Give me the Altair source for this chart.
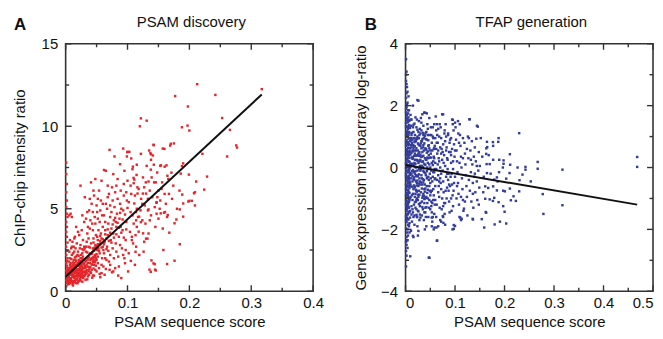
import altair as alt
import pandas as pd

# ---------------- data ----------------
PANEL_TITLES = ["PSAM discovery", "TFAP generation"]
PANEL_LETTERS = ["A", "B"]
X_TITLE = "PSAM sequence score"
Y_TITLES = ["ChIP-chip intensity ratio", "Gene expression microarray log-ratio"]

# Panel A: (PSAM sequence score, ChIP-chip intensity ratio)
A_POINTS = [
    (0.001, 0.3), (0.002, 0.5), (0.001, 0.65), (0.003, 0.75), (0.002, 0.85), (0.001, 0.95), (0.003, 1.05),
    (0.002, 1.15), (0.001, 1.25), (0.003, 1.4), (0.002, 1.55), (0.001, 1.7), (0.002, 1.85), (0.003, 2.0),
    (0.001, 2.2), (0.002, 2.45), (0.001, 2.7), (0.003, 2.95), (0.002, 3.3), (0.001, 3.6), (0.002, 3.9),
    (0.001, 4.2), (0.003, 4.5), (0.002, 4.7), (0.001, 5.1), (0.002, 5.5), (0.001, 6.0), (0.002, 6.5),
    (0.001, 7.1), (0.001, 7.8), (0.004, 0.55), (0.004, 1.3), (0.005, 0.9), (0.005, 1.8), (0.006, 4.6),
    (0.008, 4.7), (0.010, 4.5),
    (0.006, 0.45), (0.007, 0.7), (0.008, 1.0), (0.009, 1.3), (0.007, 1.6), (0.010, 0.6), (0.011, 0.9),
    (0.012, 1.2), (0.010, 1.5), (0.013, 1.9), (0.012, 2.3), (0.014, 0.8), (0.015, 1.1), (0.016, 1.4),
    (0.014, 1.7), (0.017, 2.1), (0.016, 2.6), (0.018, 0.7), (0.019, 1.0), (0.020, 1.3), (0.018, 1.6),
    (0.021, 1.9), (0.020, 2.4), (0.022, 0.9), (0.023, 1.2), (0.024, 1.5), (0.022, 1.8), (0.025, 2.2),
    (0.024, 2.8), (0.026, 1.0), (0.027, 1.35), (0.028, 1.7), (0.026, 2.0), (0.029, 2.5), (0.028, 3.1),
    (0.008, 0.55), (0.009, 0.8), (0.011, 1.1), (0.013, 1.45), (0.015, 0.6), (0.017, 0.95), (0.019, 1.25),
    (0.021, 1.55), (0.023, 0.75), (0.025, 1.05), (0.027, 1.85), (0.029, 1.15), (0.006, 1.2), (0.007, 2.0),
    (0.009, 2.6), (0.011, 3.0), (0.013, 2.7), (0.015, 3.3), (0.012, 0.35), (0.016, 0.5), (0.020, 0.55),
    (0.024, 0.65), (0.028, 0.8), (0.018, 2.9), (0.022, 3.4), (0.026, 3.7), (0.010, 2.2), (0.014, 2.4),
    (0.017, 1.8), (0.019, 2.2), (0.021, 1.05), (0.023, 2.6), (0.025, 1.6), (0.027, 2.3), (0.029, 1.9),
    (0.030, 1.4), (0.030, 0.9), (0.008, 1.45), (0.012, 1.75), (0.016, 1.9), (0.020, 1.7), (0.024, 2.0),
    (0.028, 2.1), (0.006, 0.8), (0.013, 1.0), (0.018, 1.15), (0.022, 1.35), (0.026, 1.5), (0.030, 2.7),
    (0.004, 0.42), (0.005, 0.62), (0.006, 1.02), (0.007, 1.28), (0.008, 1.72), (0.009, 0.68), (0.010, 1.02),
    (0.011, 1.38), (0.012, 0.52), (0.013, 1.22), (0.014, 1.55), (0.015, 0.88), (0.016, 1.15), (0.017, 1.48),
    (0.018, 0.92), (0.019, 1.62), (0.020, 1.08), (0.021, 1.32), (0.022, 0.62), (0.023, 1.45), (0.024, 1.22),
    (0.025, 0.85), (0.026, 1.75), (0.027, 1.12), (0.028, 1.42), (0.029, 0.95), (0.030, 1.68), (0.031, 1.52),
    (0.032, 1.05), (0.033, 1.85), (0.034, 1.28), (0.035, 2.35), (0.036, 1.72), (0.037, 1.22), (0.038, 2.05),
    (0.039, 1.45), (0.040, 1.88), (0.041, 1.12), (0.042, 2.25), (0.043, 1.62), (0.044, 2.05), (0.045, 1.38),
    (0.046, 2.45), (0.047, 1.75), (0.048, 2.15), (0.049, 1.55), (0.050, 2.75), (0.011, 0.42), (0.019, 0.48),
    (0.027, 0.58), (0.035, 0.72), (0.043, 0.82), (0.006, 2.4), (0.009, 1.95), (0.015, 2.05), (0.021, 2.15),
    (0.027, 2.55), (0.033, 2.7), (0.039, 2.65), (0.045, 2.95), (0.051, 3.3), (0.056, 3.05), (0.061, 2.5),
    (0.066, 3.2), (0.052, 2.1),
    (0.003, 0.62), (0.004, 0.88), (0.005, 1.12), (0.006, 1.42), (0.007, 0.52), (0.008, 0.78), (0.009, 1.08),
    (0.010, 1.32), (0.011, 1.62), (0.012, 0.88), (0.013, 0.62), (0.014, 1.28), (0.015, 1.58), (0.016, 0.72),
    (0.017, 1.22), (0.018, 1.32), (0.019, 0.78), (0.020, 0.92), (0.021, 1.72), (0.022, 1.12), (0.023, 0.98),
    (0.024, 1.82), (0.025, 1.32), (0.026, 1.22), (0.027, 0.88), (0.028, 1.92), (0.029, 1.62), (0.030, 1.18),
    (0.031, 0.98), (0.032, 1.42), (0.033, 1.18), (0.034, 1.62), (0.035, 1.08), (0.036, 1.92), (0.037, 1.48),
    (0.038, 1.32), (0.039, 2.25), (0.040, 1.15), (0.041, 1.95), (0.042, 1.62), (0.043, 2.35), (0.044, 1.78),
    (0.045, 2.45), (0.046, 2.05), (0.047, 2.65), (0.048, 1.85), (0.049, 2.55), (0.050, 2.25), (0.052, 2.85),
    (0.054, 2.45), (0.056, 3.35), (0.058, 2.65), (0.060, 3.15), (0.062, 2.85), (0.064, 3.45), (0.066, 2.55),
    (0.068, 3.75), (0.070, 3.05), (0.072, 3.55), (0.074, 2.95), (0.076, 4.05), (0.078, 3.25), (0.080, 4.45),
    (0.082, 3.45), (0.084, 4.15), (0.086, 3.85), (0.088, 4.75), (0.090, 3.55), (0.092, 4.35), (0.094, 3.25),
    (0.096, 4.65), (0.098, 3.75), (0.100, 5.05), (0.036, 3.9), (0.040, 4.3), (0.044, 3.7), (0.048, 4.1),
    (0.052, 5.6), (0.056, 4.9), (0.060, 5.3), (0.064, 4.2), (0.068, 5.7), (0.072, 5.2), (0.076, 5.5),
    (0.080, 6.0), (0.084, 6.8), (0.090, 5.0), (0.094, 6.5), (0.098, 6.0), (0.068, 6.4), (0.058, 6.7),
    (0.045, 6.1), (0.039, 5.6), (0.035, 4.8), (0.030, 4.2), (0.027, 4.6), (0.020, 3.6), (0.017, 3.9),
    (0.014, 3.2), (0.010, 2.7), (0.007, 3.1), (0.102, 5.4), (0.105, 6.4), (0.108, 4.6), (0.112, 5.8),
    (0.115, 3.9), (0.118, 6.2), (0.121, 4.9), (0.124, 5.3), (0.127, 6.3), (0.129, 4.1), (0.133, 5.6),
    (0.136, 4.3), (0.139, 6.9), (0.144, 5.1), (0.147, 4.7), (0.15, 6.1), (0.153, 5.5), (0.156, 6.6),
    (0.162, 5.3), (0.167, 5.9), (0.174, 6.4), (0.18, 5.0), (0.072, 1.6), (0.082, 2.4), (0.088, 2.8),
    (0.095, 2.0), (0.058, 1.6), (0.064, 2.0), (0.05, 1.2), (0.046, 0.95), (0.055, 1.05), (0.065, 1.35),
    (0.077, 1.2), (0.085, 0.95),
    (0.031, 1.2), (0.032, 1.8), (0.033, 2.4), (0.034, 3.0), (0.032, 0.7), (0.035, 1.5), (0.036, 2.1),
    (0.037, 2.7), (0.035, 3.5), (0.038, 1.0), (0.039, 1.7), (0.040, 2.3), (0.041, 2.9), (0.039, 3.8),
    (0.042, 1.3), (0.043, 2.0), (0.044, 2.6), (0.045, 3.2), (0.043, 4.1), (0.046, 1.6), (0.047, 2.2),
    (0.048, 2.8), (0.049, 3.4), (0.047, 4.5), (0.050, 1.9), (0.051, 2.5), (0.052, 3.1), (0.053, 3.7),
    (0.051, 4.8), (0.054, 1.4), (0.055, 2.3), (0.056, 2.9), (0.057, 3.5), (0.055, 4.2), (0.058, 1.1),
    (0.059, 2.0), (0.060, 2.7), (0.036, 0.9), (0.040, 1.45), (0.044, 0.95), (0.048, 1.3), (0.052, 1.7),
    (0.056, 0.85), (0.033, 4.4), (0.038, 4.9), (0.042, 5.3), (0.046, 5.8), (0.050, 5.2), (0.041, 6.6),
    (0.048, 6.8), (0.034, 2.0), (0.045, 1.9), (0.053, 2.6), (0.058, 3.2), (0.060, 3.9), (0.057, 5.5),
    (0.054, 6.1), (0.037, 3.2), (0.049, 2.0), (0.031, 2.6), (0.024, 6.4), (0.031, 5.7), (0.044, 4.8),
    (0.052, 4.4), (0.059, 4.6),
    (0.061, 1.5), (0.062, 2.3), (0.063, 3.0), (0.064, 3.7), (0.062, 4.6), (0.065, 5.3), (0.066, 1.9),
    (0.067, 2.7), (0.068, 3.4), (0.069, 4.1), (0.067, 5.0), (0.070, 5.9), (0.071, 1.3), (0.072, 2.2),
    (0.073, 3.1), (0.074, 3.8), (0.072, 4.5), (0.075, 6.3), (0.076, 2.6), (0.077, 3.5), (0.078, 4.3),
    (0.079, 5.1), (0.077, 7.1), (0.080, 1.4), (0.081, 2.9), (0.082, 3.9), (0.083, 4.7), (0.084, 5.6),
    (0.082, 6.4), (0.085, 2.1), (0.086, 3.3), (0.087, 4.4), (0.088, 5.3), (0.089, 6.1), (0.088, 7.7),
    (0.090, 0.8), (0.091, 2.6), (0.092, 3.7), (0.093, 4.9), (0.094, 5.8), (0.095, 7.3), (0.096, 1.7),
    (0.097, 3.1), (0.098, 4.2), (0.099, 5.5), (0.100, 6.7), (0.063, 1.0), (0.070, 1.8), (0.075, 1.15),
    (0.078, 2.0), (0.086, 1.5), (0.093, 2.2), (0.065, 7.3), (0.071, 8.57), (0.079, 8.17), (0.093, 8.65),
    (0.0996, 8.43), (0.103, 8.45), (0.062, 7.35), (0.069, 2.45), (0.074, 4.8), (0.081, 4.2), (0.089, 3.9),
    (0.097, 2.5),
    (0.101, 1.2), (0.102, 2.3), (0.104, 3.6), (0.105, 4.8), (0.106, 5.9), (0.108, 7.4), (0.109, 2.9),
    (0.110, 4.1), (0.111, 6.77), (0.112, 1.6), (0.113, 3.4), (0.115, 5.0), (0.116, 6.3), (0.117, 4.5),
    (0.118, 3.61), (0.119, 2.2), (0.120, 10.0), (0.1216, 10.48), (0.131, 10.34), (0.1216, 8.33),
    (0.122, 5.6), (0.124, 4.3), (0.125, 6.9), (0.127, 3.0), (0.128, 5.2), (0.130, 3.19), (0.131, 7.6),
    (0.133, 4.9), (0.135, 8.53), (0.137, 8.37), (0.136, 6.1), (0.138, 4.6), (0.1387, 1.87), (0.142, 1.69),
    (0.1355, 1.31), (0.1445, 1.31), (0.140, 5.7), (0.141, 8.23), (0.142, 8.88), (0.143, 6.6), (0.145, 3.9),
    (0.147, 5.4), (0.148, 7.2), (0.150, 4.4), (0.107, 3.3), (0.114, 2.7), (0.126, 2.4), (0.134, 3.5),
    (0.1087, 7.55), (0.115, 7.67), (0.1425, 7.67), (0.153, 7.6), (0.160, 7.55), (0.138, 8.3), (0.138, 7.97),
    (0.1425, 8.85), (0.1597, 8.63), (0.169, 8.83), (0.106, 8.05), (0.099, 8.17), (0.1, 8.45),
    (0.144, 1.64), (0.1376, 1.18), (0.1457, 1.26), (0.113, 2.39), (0.1054, 1.84), (0.107, 3.1),
    (0.1252, 3.51), (0.1323, 3.19), (0.2075, 5.94), (0.1983, 5.44), (0.179, 4.35), (0.186, 7.13),
    (0.1645, 7.0), (0.1376, 7.37), (0.1296, 6.6), (0.134, 6.65), (0.1457, 6.6), (0.1098, 6.87),
    (0.1146, 7.05), (0.11, 6.55), (0.1162, 5.92), (0.1248, 5.92), (0.13, 5.92), (0.1468, 5.36),
    (0.1483, 5.7), (0.111, 5.32), (0.1135, 4.8), (0.1188, 4.52), (0.1216, 4.19), (0.114, 4.3),
    (0.134, 4.96), (0.1537, 4.72), (0.1606, 4.8), (0.165, 4.62),
    (0.154, 7.63), (0.157, 8.65), (0.163, 7.63), (0.170, 8.94), (0.175, 8.96), (0.171, 7.19), (0.157, 3.8),
    (0.159, 4.76), (0.164, 4.5), (0.1676, 3.55), (0.176, 4.12), (0.1845, 2.85), (0.164, 1.65), (0.176, 1.85),
    (0.1845, 4.96), (0.19, 4.52), (0.19, 5.32), (0.184, 6.1), (0.1885, 5.86), (0.2, 5.48), (0.204, 5.48),
    (0.209, 5.2), (0.209, 6.0), (0.224, 6.16), (0.211, 6.65), (0.2286, 6.95), (0.1992, 7.07), (0.19, 7.75),
    (0.188, 7.59), (0.221, 8.33), (0.261, 8.17), (0.2758, 8.84), (0.277, 8.71), (0.188, 9.94), (0.197, 10.04),
    (0.2, 9.74), (0.253, 10.5), (0.2656, 9.78), (0.1976, 11.2), (0.177, 11.83), (0.2126, 12.55), (0.242, 11.9),
    (0.317, 12.25), (0.155, 6.2), (0.160, 5.9), (0.166, 6.8), (0.152, 5.0), (0.158, 2.5), (0.172, 5.6),
]

# Panel B: (PSAM sequence score, gene expression log-ratio)
B_POINTS = [
    (.001, 3.5), (.002, 3.1), (.001, 2.8), (.003, 2.6), (.002, 2.4), (.001, 2.25), (.004, 2.1), (.002, 1.95),
    (.005, 1.85), (.001, 1.78), (.003, 1.7), (.006, 1.62), (.002, 1.55), (.004, 1.5), (.001, 1.43), (.007, 1.37),
    (.003, 1.3), (.005, 1.24), (.002, 1.18), (.008, 1.12), (.001, 1.05), (.004, .99), (.006, .93), (.002, .88),
    (.003, .82), (.007, .76), (.001, .7), (.005, .64), (.002, .59), (.008, .53), (.004, .47), (.001, .41),
    (.006, .36), (.003, .3), (.002, .24), (.007, .19), (.001, .13), (.005, .07), (.003, .02), (.008, -.04),
    (.002, -.1), (.004, -.15), (.001, -.21), (.006, -.27), (.003, -.32), (.007, -.38), (.002, -.44), (.005, -.5),
    (.001, -.55), (.004, -.61), (.008, -.67), (.002, -.73), (.006, -.78), (.003, -.84), (.001, -.9), (.005, -.96),
    (.007, -1.02), (.002, -1.08), (.004, -1.14), (.001, -1.2), (.006, -1.27), (.003, -1.34), (.002, -1.41),
    (.005, -1.5), (.001, -1.58), (.004, -1.67), (.002, -1.76), (.006, -1.86), (.001, -1.97), (.003, -2.1),
    (.002, -2.25), (.001, -2.4), (.004, -2.6), (.002, -2.85), (.001, -3.2),
    (.005, 1.46), (.008, 1.28), (.004, 1.08), (.009, .95), (.006, .72), (.009, .5), (.004, .27), (.009, .1),
    (.006, -.07), (.009, -.24), (.004, -.42), (.009, -.6), (.006, -.81), (.009, -.99), (.004, -1.22),
    (.008, -1.45), (.003, -1.62), (.007, -1.9), (.005, -2.2), (.003, .58), (.007, .01), (.002, -.63),
    (.008, .31), (.005, -.35), (.003, 1.0), (.007, -1.3),
    (.002, 1.62), (.004, 1.33), (.006, 1.05), (.001, .85), (.008, .62), (.003, .44), (.006, .2), (.001, -.02),
    (.009, -.18), (.004, -.36), (.007, -.52), (.001, -.7), (.005, -.88), (.008, -1.05), (.002, -1.24),
    (.006, -1.43), (.003, -1.65), (.008, -1.8), (.004, -2.0), (.007, 1.52), (.003, 1.15), (.009, .85),
    (.005, .4), (.002, .05), (.008, -.45), (.003, -.95), (.009, -1.4), (.006, -1.68), (.004, .75),
    (.007, -.12), (.005, -1.18), (.002, .32), (.009, .62), (.006, -.6), (.001, 1.9), (.003, 2.05), (.005, 1.75),
    (.002, -2.5), (.003, -2.35), (.001, -2.7), (.001, 3.0), (.002, 2.7),
    (.001, 1.32), (.002, 1.08), (.001, .78), (.003, .52), (.002, .16), (.001, -.28), (.003, -.58), (.002, -.82),
    (.001, -1.04), (.003, -1.28), (.002, -1.52), (.001, -1.72), (.004, 1.58), (.005, .82), (.004, .02),
    (.005, -.72), (.004, -1.52), (.007, 1.15), (.007, .42), (.007, -.32), (.007, -1.12), (.008, 1.52),
    (.008, .18), (.008, -.82), (.009, 1.28), (.009, -.48), (.009, -1.62), (.006, 1.3), (.006, .5), (.006, -.15),
    (.006, -1.1), (.005, -1.85), (.008, -2.1), (.004, -2.35), (.006, 2.3), (.004, 2.45), (.007, 1.85),
    (.010, 1.7), (.011, 1.35), (.012, 1.05), (.013, .8), (.014, .55), (.015, .3), (.016, .08), (.017, -.15),
    (.018, -.4), (.019, -.62), (.020, -.85), (.021, -1.1), (.022, -1.35), (.023, -1.6), (.024, -1.9),
    (.011, -2.05), (.013, -1.75), (.015, -1.45), (.017, -1.2), (.019, -.95), (.021, -.72), (.023, -.5),
    (.025, -.28), (.027, -.05), (.029, .2), (.010, .42), (.012, .65), (.014, .9), (.016, 1.15), (.018, 1.42),
    (.020, 1.62), (.022, 1.3), (.024, 1.0), (.026, .75), (.028, .5), (.030, .25), (.012, -.2), (.014, -.45),
    (.016, -.7), (.018, .15), (.020, .38), (.022, .62), (.024, -.1), (.026, -.6), (.028, -.88), (.030, -1.15),
    (.011, .12), (.013, -.9), (.015, 1.3), (.017, .7), (.019, .45), (.021, .0), (.023, .25), (.025, .55),
    (.027, .95), (.029, 1.25), (.010, -.55), (.012, -1.25), (.014, -1.05), (.016, -1.6), (.018, -1.85),
    (.020, -1.3), (.022, -.25), (.024, .4), (.026, .15), (.028, -.35), (.030, .7), (.024, 2.18), (.015, 2.0),
    (.019, 1.05), (.021, .85), (.023, -1.0), (.025, -1.4), (.027, -.75), (.029, -.45), (.013, .33),
    (.017, .95), (.027, 1.5), (.011, .88), (.025, -2.2), (.016, -2.25), (.028, -1.7), (.019, -.2), (.023, 1.55),
    (.026, 1.15), (.012, 1.55), (.030, -.1), (.030, 1.1), (.014, .12), (.018, -.65), (.022, -.75), (.026, -.95),
    (.010, .05), (.011, -.35), (.012, .48), (.013, -.62), (.014, .28), (.015, -.85), (.016, .62), (.017, -.32),
    (.018, .82), (.019, -1.12), (.020, .12), (.021, -.45), (.022, .95), (.023, -.78), (.024, .22), (.025, -1.05),
    (.026, .45), (.027, -.22), (.028, .72), (.029, -1.25), (.030, .42), (.031, -.48), (.032, .62), (.033, -.68),
    (.034, .18), (.035, -.92), (.036, .38), (.037, -.15), (.038, .78), (.039, -.55), (.040, .08), (.041, -.98),
    (.042, .58), (.043, -.35), (.044, .32), (.045, -.72), (.010, -.95), (.012, .95), (.014, -1.35), (.016, 1.38),
    (.018, -1.55), (.020, .88), (.022, -1.05), (.024, 1.22), (.026, -1.42), (.028, 1.05), (.030, -1.62),
    (.032, .85), (.034, -1.28), (.036, 1.05), (.038, -1.02), (.040, .62), (.011, .72), (.013, -.12), (.015, .52),
    (.017, -.58), (.019, .25), (.021, .55), (.023, -.28), (.025, .78), (.027, -.52), (.029, .05), (.031, -.05),
    (.033, .35), (.035, -.38), (.037, .55), (.039, -.78), (.041, .25), (.043, -.12), (.045, .15),
    (.011, 1.55), (.013, 1.12), (.015, .72), (.017, .38), (.019, .02), (.021, -.28), (.023, -.58), (.025, -.88),
    (.027, -1.18), (.029, -1.52), (.012, -1.52), (.014, -.28), (.016, -.38), (.018, .55), (.020, -.12),
    (.022, .38), (.024, -.42), (.026, .95), (.028, .22), (.030, -.55), (.032, .05), (.034, .92), (.036, -.48),
    (.038, .12), (.040, -.68), (.042, 1.15), (.044, -.32), (.046, .88), (.048, -1.05), (.050, .55), (.052, .32),
    (.054, -.45), (.056, -1.05), (.058, .62), (.060, .15), (.015, -.08), (.019, .68), (.023, .92), (.027, .38),
    (.031, .78), (.035, .02), (.039, 1.02), (.043, .48), (.047, .72), (.051, -.35), (.055, .08), (.059, -.38),
    (.033, -.35), (.037, -.92), (.041, .92), (.045, .52), (.049, .32), (.053, -.75), (.057, .35), (.035, 1.12),
    (.045, 1.25), (.055, 1.0), (.065, .8), (.075, .5), (.085, .25), (.062, .6), (.067, .3), (.072, -.2),
    (.077, .15), (.082, .55), (.087, -.2), (.092, .4), (.097, -.75), (.066, -.8), (.071, -.5), (.081, -.75),
    (.091, -.3), (.063, -1.2), (.073, -1.35), (.083, -1.0), (.093, -1.4), (.069, 1.4), (.079, 1.2), (.089, .8),
    (.032, 1.45), (.036, .72), (.04, -.18), (.044, -.82), (.048, .62), (.052, 1.05), (.056, -.15), (.06, -1.05),
    (.064, 1.05), (.068, -.45), (.072, .45), (.076, -1.25), (.08, .85), (.084, -.2), (.088, -.55), (.092, .95),
    (.096, -.05), (.1, .55), (.104, -.6), (.108, .8), (.112, -.95), (.116, .3), (.12, -1.1), (.124, .6),
    (.128, .95), (.132, .25), (.136, -.85), (.14, -.2), (.144, .05), (.148, -1.2), (.034, -.98), (.038, -1.45),
    (.042, -1.28), (.046, -1.6), (.05, -1.35), (.054, -1.15), (.058, -1.5), (.062, -1.6), (.066, 1.25), (.07, .65),
    (.026, 2.16), (.0377, 1.77), (.0397, 1.77), (.0235, -1.6), (.033, -1.55), (.0222, -1.53), (.0095, -2.87),
    (.0149, -2.21), (.026, -2.05),
    (.031, 1.6), (.032, 1.2), (.033, .85), (.034, .5), (.035, .2), (.036, -.1), (.037, -.4), (.038, -.7),
    (.039, -1.0), (.040, -1.3), (.041, -1.6), (.042, -1.9), (.043, 1.75), (.044, 1.4), (.045, 1.05), (.046, .7),
    (.047, .4), (.048, .1), (.049, -.2), (.050, -.5), (.051, -.8), (.052, -1.1), (.053, -1.45), (.054, -1.75),
    (.055, 1.3), (.056, .95), (.057, .6), (.058, .3), (.059, -.05), (.060, -.35), (.032, -.25), (.034, -.55),
    (.036, -.85), (.038, -1.15), (.040, -1.45), (.042, .25), (.044, .0), (.046, -.3), (.048, -.6), (.050, -.9),
    (.052, -1.25), (.054, .55), (.056, .2), (.058, -.15), (.060, -.6), (.031, .35), (.033, .05), (.035, .65),
    (.037, .95), (.039, .3), (.041, .6), (.043, .9), (.045, -.05), (.047, -.4), (.049, -.75), (.051, .45),
    (.053, .15), (.055, -.3), (.057, -.9), (.059, -1.2), (.031, -.8), (.033, -1.1), (.035, -1.35), (.037, -1.7),
    (.039, -2.0), (.041, -.25), (.043, -.6), (.045, -1.0), (.047, -1.3), (.049, 1.05), (.051, 1.3), (.053, .8),
    (.055, -1.6), (.057, -2.0), (.059, .7), (.036, 1.35), (.040, 1.1), (.044, -1.15), (.048, 1.6), (.052, -.1),
    (.056, -.7), (.060, .95), (.034, 1.72), (.038, 1.77), (.047, -2.91), (.053, -1.9), (.058, 1.4), (.042, -.95),
    (.050, .0), (.046, .3),
    (.061, 1.65), (.062, 1.2), (.063, .8), (.064, .45), (.065, .1), (.066, -.25), (.067, -.6), (.068, -.95),
    (.069, -1.3), (.070, -1.7), (.071, 1.3), (.072, .95), (.073, .6), (.074, .25), (.075, -.1), (.076, -.45),
    (.077, -.8), (.078, -1.15), (.079, -1.5), (.080, -1.85), (.081, 1.4), (.082, 1.0), (.083, .65), (.084, .3),
    (.085, -.05), (.086, -.4), (.087, -.75), (.088, -1.1), (.089, -1.45), (.090, .9), (.091, .5), (.092, .15),
    (.093, -.2), (.094, -.55), (.095, -.9), (.096, -1.25), (.097, 1.2), (.098, .75), (.099, .35), (.100, -.3),
    (.062, -.05), (.064, -.4), (.066, .55), (.068, .2), (.070, -.35), (.072, -.7), (.074, -1.0), (.076, .75),
    (.078, .4), (.080, .05), (.082, -.3), (.084, -.65), (.086, 1.1), (.088, .5), (.090, -.6), (.092, -1.0),
    (.094, .6), (.096, .2), (.098, -.5), (.100, 1.45), (.064, -2.36), (.074, 1.72), (.066, -1.9), (.072, -1.75),
    (.076, -1.6), (.095, -2.0), (.1, -1.89), (.094, 1.55), (.086, 1.05), (.08, -1.15), (.068, 1.0), (.07, .0),
    (.0759, 1.72), (.0954, 1.54), (.0954, 1.4), (.0785, 1.1), (.0632, 1.4), (.0752, -1.57), (.053, -1.62),
    (.0584, -1.94), (.0624, -1.94), (.0765, -1.79), (.0974, -1.98), (.0974, -1.86), (.0632, -2.37),
    (.0484, -2.92),
    (.101, 1.3), (.102, .9), (.103, .55), (.104, .2), (.105, -.15), (.106, -.5), (.107, -.85), (.108, -1.2),
    (.109, -1.6), (.110, 1.05), (.111, .7), (.112, .35), (.113, .0), (.114, -.35), (.115, -.7), (.116, -1.05),
    (.117, -1.4), (.118, -1.33), (.119, .8), (.120, .45), (.121, .1), (.122, -.25), (.123, -.6), (.124, -.95),
    (.126, 1.0), (.127, .3), (.128, -.4), (.129, 1.56), (.130, -.75), (.131, .55), (.132, -.15), (.133, -1.1),
    (.134, .85), (.135, .1), (.136, -.5), (.137, -1.3), (.138, .35), (.139, -.3), (.140, .65), (.141, -.8),
    (.142, .2), (.143, .93), (.144, -.45), (.145, -1.05), (.146, 1.32), (.147, -.1), (.148, .5), (.149, -.65),
    (.150, .05), (.106, 1.5), (.112, -1.7), (.116, .95), (.125, -1.55), (.103, -1.0), (.109, .15),
    (.1107, -1.62), (.1356, -1.66), (.1135, -1.66), (.1363, -1.68), (.1095, 1.4), (.1067, 1.1), (.1296, 1.56),
    (.1443, 1.35),
    (.1619, -1.44), (.154, -1.67), (.159, -1.94), (.163, -1.46), (.18, -1.84), (.1907, -1.75), (.2034, -1.81),
    (.2001, -1.43), (.1973, -1.25), (.188, -1.12), (.1765, -1.08), (.17, -1.03), (.1792, -.98), (.161, -1.01),
    (.2007, -.77), (.1973, -.75), (.1846, -.74), (.177, -.61), (.167, -.66), (.161, -.61), (.186, -.45),
    (.1792, -.39), (.1846, -.32), (.189, -.15), (.1645, -.18), (.17, .11), (.1638, .11), (.1966, .0),
    (.198, .12), (.198, .23), (.1893, .25), (.177, .25), (.163, .44), (.1632, .62), (.165, .66), (.1645, .83),
    (.177, .7), (.1766, .82), (.1873, .83), (.188, .95), (.2034, -.36), (.2102, -.18), (.2108, .43),
    (.2114, .09), (.2108, -.68), (.2182, -.93), (.2128, -1.06), (.2229, -1.08), (.2263, .0), (.2363, -.23),
    (.2296, -.77), (.2303, -.41), (.2296, 1.11), (.2423, .02), (.2423, -.07), (.253, -.45), (.267, .18),
    (.267, -.04), (.2772, -.86), (.2786, -1.5), (.317, -.07), (.317, -1.22), (.468, .34), (.468, .02),
    (.155, .35), (.158, -.3), (.172, -.2), (.152, .95), (.157, -.8), (.168, .4),
]

# fitted regression lines (end points)
A_FIT_X = [0.0, 0.317]
A_FIT_Y = [0.88, 11.93]
B_FIT_X = [0.0, 0.468]
B_FIT_Y = [0.08, -1.2]

# axis ticks
A_XMAJOR = [0, 0.1, 0.2, 0.3, 0.4]
A_XMINOR = [0.05, 0.15, 0.25, 0.35]
A_YMAJOR = [0, 5, 10, 15]
A_YMINOR = [2.5, 7.5, 12.5]
B_XMAJOR = [0, 0.1, 0.2, 0.3, 0.4, 0.5]
B_XMINOR = [0.05, 0.15, 0.25, 0.35, 0.45]
B_YMAJOR = [-4, -2, 0, 2, 4]
B_YMINOR = [-3, -1, 1, 3]

# ---------------- styling ----------------
W = 249
H = 249
FONT = "Liberation Sans"
TEXT_COLOR = "#111111"
FRAME = "#333333"
MAJOR_LEN = 6
MINOR_LEN = 3.5


def panel(points, fit_x, fit_y, xdom, ydom, xmaj, xmin, ymaj, ymin, color,
          title, letter, ytitle, letter_dx, ytitle_pad, flush):
    xs = alt.Scale(domain=xdom, nice=False, zero=False)
    ys = alt.Scale(domain=ydom, nice=False, zero=False)
    xaxis = alt.Axis(values=xmaj, format="~g", title=X_TITLE, ticks=False, tickSize=0,
                     domain=False, grid=False, labelPadding=4, titlePadding=4,
                     labelFlush=flush, labelFlushOffset=0, labelOverlap=False)
    yaxis = alt.Axis(values=ymaj, format="~g", title=ytitle, ticks=False, tickSize=0,
                     domain=False, grid=False, labelPadding=8, titlePadding=ytitle_pad,
                     labelFlush=False, labelOverlap=False)
    X = lambda: alt.X("x:Q", scale=xs, axis=xaxis)
    Y = lambda: alt.Y("y:Q", scale=ys, axis=yaxis)

    df = pd.DataFrame(points, columns=["x", "y"])
    pts = alt.Chart(df).mark_square(size=6, color=color, opacity=1).encode(x=X(), y=Y())
    fit = alt.Chart(pd.DataFrame({"x": fit_x, "y": fit_y})).mark_line(
        color="#111111", strokeWidth=2).encode(x=X(), y=Y())

    layers = [pts, fit]
    for vals, ln in ((xmaj, MAJOR_LEN), (xmin, MINOR_LEN)):
        d = pd.DataFrame({"x": vals})
        layers.append(alt.Chart(d).mark_rule(color=FRAME, strokeWidth=1.4).encode(
            x=X(), y=alt.value(H), y2=alt.value(H - ln)))
        layers.append(alt.Chart(d).mark_rule(color=FRAME, strokeWidth=1.4).encode(
            x=X(), y=alt.value(0), y2=alt.value(ln)))
    for vals, ln in ((ymaj, MAJOR_LEN), (ymin, MINOR_LEN)):
        d = pd.DataFrame({"y": vals})
        layers.append(alt.Chart(d).mark_rule(color=FRAME, strokeWidth=1.4).encode(
            y=Y(), x=alt.value(0), x2=alt.value(ln)))
        layers.append(alt.Chart(d).mark_rule(color=FRAME, strokeWidth=1.4).encode(
            y=Y(), x=alt.value(W), x2=alt.value(W - ln)))

    ttl = alt.Chart(pd.DataFrame({"t": [title]})).mark_text(
        font=FONT, fontSize=15, color=TEXT_COLOR, align="center", baseline="alphabetic").encode(
        text="t:N", x=alt.value(W / 2 + 2), y=alt.value(-17))
    let = alt.Chart(pd.DataFrame({"t": [letter]})).mark_text(
        font=FONT, fontSize=17, fontWeight="bold", color=TEXT_COLOR, align="left",
        baseline="alphabetic").encode(text="t:N", x=alt.value(letter_dx), y=alt.value(-14))
    layers += [ttl, let]
    return alt.layer(*layers).properties(width=W, height=H)


panel_a = panel(A_POINTS, A_FIT_X, A_FIT_Y, [0, 0.4], [0, 15], A_XMAJOR, A_XMINOR,
                A_YMAJOR, A_YMINOR, "#e3262b", PANEL_TITLES[0], PANEL_LETTERS[0],
                Y_TITLES[0], -52, 14, False)
panel_b = panel(B_POINTS, B_FIT_X, B_FIT_Y, [0, 0.5], [-4, 4], B_XMAJOR, B_XMINOR,
                B_YMAJOR, B_YMINOR, "#343d9a", PANEL_TITLES[1], PANEL_LETTERS[1],
                Y_TITLES[1], -41, 12, True)

chart = alt.hconcat(panel_a, panel_b, spacing=28).properties(
    padding={"left": 3, "top": 5, "right": 0, "bottom": 0}
).configure_view(
    stroke=FRAME, strokeWidth=1.6
).configure_axis(
    labelFont=FONT, labelFontSize=15, labelColor=TEXT_COLOR,
    titleFont=FONT, titleFontSize=15, titleFontWeight="normal", titleColor=TEXT_COLOR
)

chart.save("out.html", embed_options={"renderer": "svg", "actions": False})
